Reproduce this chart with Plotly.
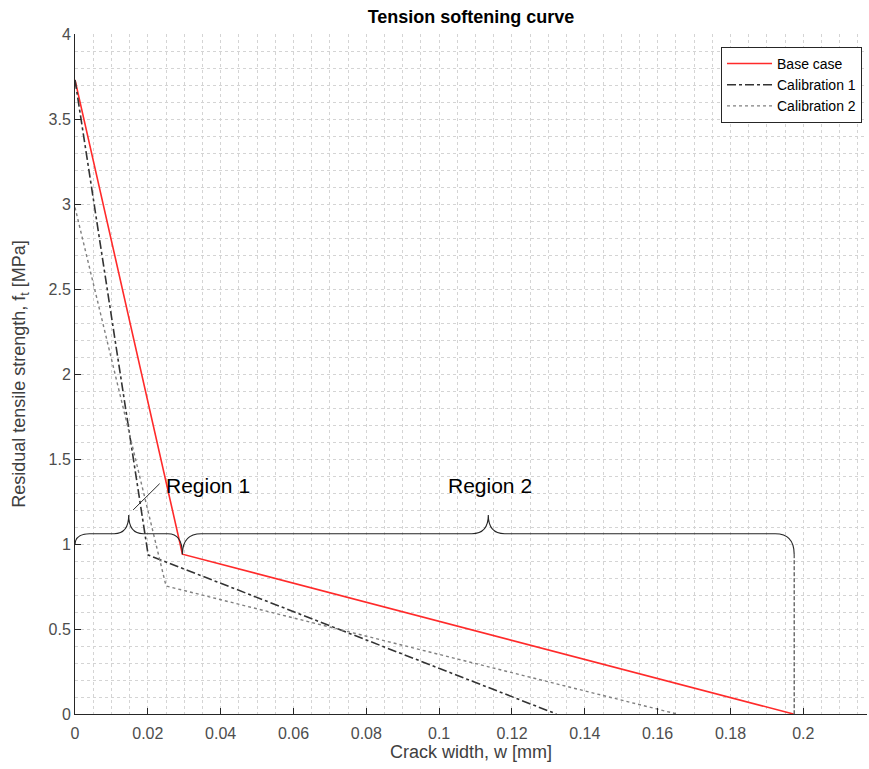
import plotly.graph_objects as go

# ---- data ----
w_base = [0.0, 0.0295, 0.1973]
f_base = [3.73, 0.94, 0.0]
w_cal1 = [0.0, 0.0201, 0.1322]
f_cal1 = [3.73, 0.935, 0.0]
w_cal2 = [0.0, 0.025, 0.1653]
f_cal2 = [2.98, 0.753, 0.0]

region1 = [0.0, 0.0295]
region2 = [0.0295, 0.1975]
region1_ends = [0.994, 0.94]
region2_ends = [0.94, 0.94]
region_labels = ["Region 1", "Region 2"]

x_ticks = [0, 0.02, 0.04, 0.06, 0.08, 0.1, 0.12, 0.14, 0.16, 0.18, 0.2]
y_ticks = [0, 0.5, 1, 1.5, 2, 2.5, 3, 3.5, 4]

fig = go.Figure()
fig.add_trace(go.Scatter(x=w_base, y=f_base, mode="lines", name="Base case",
                         line=dict(color="#ff2a2a", width=1.6)))
fig.add_trace(go.Scatter(x=w_cal1, y=f_cal1, mode="lines", name="Calibration 1",
                         line=dict(color="#333333", width=1.6, dash="dashdot")))
fig.add_trace(go.Scatter(x=w_cal2, y=f_cal2, mode="lines", name="Calibration 2",
                         line=dict(color="#808080", width=1.4, dash="dot")))

# ---- braces ----
LEVEL = 1.06
TIP = 1.17


def brace(x0, x1, y0, y1, r=0.0045, tip_w=0.0042):
    xm = (x0 + x1) / 2
    p = f"M {x0},{y0} Q {x0},{LEVEL} {x0 + r},{LEVEL} "
    p += f"L {xm - tip_w},{LEVEL} Q {xm},{LEVEL} {xm},{TIP} "
    p += f"Q {xm},{LEVEL} {xm + tip_w},{LEVEL} "
    p += f"L {x1 - r},{LEVEL} Q {x1},{LEVEL} {x1},{y1}"
    return p, xm


p1, xm1 = brace(region1[0], region1[1], region1_ends[0], region1_ends[1], r=0.004, tip_w=0.004)
p2, xm2 = brace(region2[0], region2[1], region2_ends[0], region2_ends[1], r=0.0052, tip_w=0.0045)
for p in (p1, p2):
    fig.add_shape(type="path", path=p, xref="x", yref="y",
                  line=dict(color="#262626", width=1.1))
fig.add_shape(type="line", xref="x", yref="y", x0=region2[1], x1=region2[1],
              y0=region2_ends[1], y1=0, line=dict(color="#262626", width=1, dash="4px,2px"))
# leader line for Region 1
fig.add_shape(type="line", xref="x", yref="y", x0=xm1 + 0.0012, y0=1.2, x1=xm1 + 0.0085, y1=1.355,
              line=dict(color="#262626", width=1))

fig.add_annotation(x=xm1 + 0.0098, y=1.345, xref="x", yref="y", text=region_labels[0],
                   showarrow=False, xanchor="left", font=dict(size=21, color="#000000"))
fig.add_annotation(x=xm2 + 0.0005, y=1.345, xref="x", yref="y", text=region_labels[1],
                   showarrow=False, xanchor="center", font=dict(size=21, color="#000000"))

fig.update_layout(
    width=869, height=769,
    margin=dict(l=75, r=2, t=34, b=55),
    paper_bgcolor="white", plot_bgcolor="white",
    font=dict(family="Liberation Sans, Arial, sans-serif", color="#404040"),
    title=dict(text="<b>Tension softening curve</b>", x=0.5, xref="paper",
               y=1 - 17 / 769, yref="container", yanchor="middle", xanchor="center",
               font=dict(size=18, color="#000000")),
    showlegend=True,
    legend=dict(x=0.9937, y=0.981, xanchor="right", yanchor="top",
                bgcolor="white", bordercolor="#262626", borderwidth=1, itemwidth=45,
                font=dict(size=14, color="#000000"), tracegroupgap=0),
    xaxis=dict(range=[0, 0.2175], tickvals=x_ticks, ticktext=[f"{v:g}" for v in x_ticks],
               ticks="inside", ticklen=6, tickcolor="#262626", ticklabelstandoff=5,
               showline=True, linecolor="#262626", linewidth=1, mirror=False,
               showgrid=True, gridcolor="#d4d4d4", griddash="dot", gridwidth=1,
               minor=dict(dtick=0.005, showgrid=True, gridcolor="#d4d4d4", griddash="dot", ticks=""),
               zeroline=False, tickfont=dict(size=16, color="#4d4d4d"),
               title=dict(text="Crack width, w [mm]", font=dict(size=18, color="#404040"), standoff=2)),
    yaxis=dict(range=[0, 4], tickvals=y_ticks, ticktext=[f"{v:g}" for v in y_ticks],
               ticks="inside", ticklen=6, tickcolor="#262626",
               showline=True, linecolor="#262626", linewidth=1, mirror=False,
               showgrid=True, gridcolor="#d4d4d4", griddash="dot", gridwidth=1,
               minor=dict(dtick=0.1, showgrid=True, gridcolor="#d4d4d4", griddash="dot", ticks=""),
               zeroline=False, tickfont=dict(size=16, color="#4d4d4d"),
               title=dict(text="Residual tensile strength, f<sub>t</sub> [MPa]",
                          font=dict(size=18, color="#404040"), standoff=18)),
)

fig.write_html("out.html")
